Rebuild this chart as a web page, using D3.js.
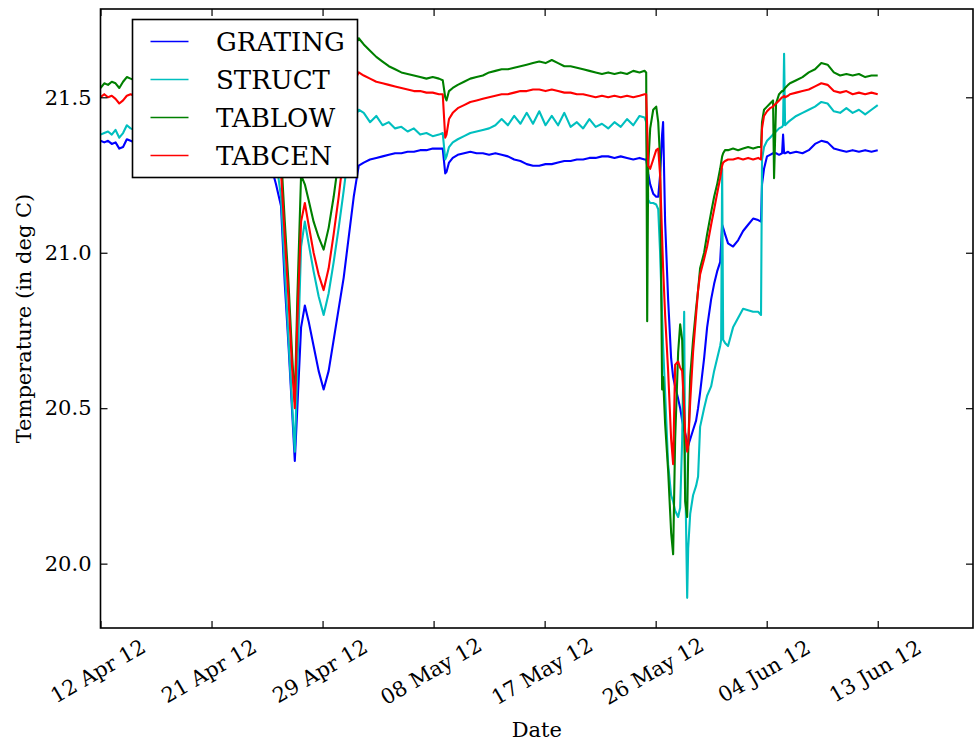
<!DOCTYPE html>
<html>
<head>
<meta charset="utf-8">
<script src="https://cdn.jsdelivr.net/npm/d3@7"></script>
<style>
  body { margin: 0; background: #fff; }
  text { font-family: "DejaVu Serif", serif; fill: #000; }
</style>
</head>
<body>
<svg id="chart" width="974" height="744"></svg>
<script>
// time is kept as days since the first sample (12 Apr 2012, ~05:00)
const startTime = new Date(2012, 3, 12, 5, 0);
const DAY = 864e5;

const days = [
  0, 0.3, 0.6, 0.9, 1.2, 1.5, 1.8, 2.1, 2.4, 3, 4, 5, 6, 7, 8, 9, 10, 11, 12, 13, 13.6, 14.0,
  14.4, 14.7, 15.0, 15.3, 15.5, 15.7, 16.0, 16.3, 16.6, 17.0, 17.4, 17.8, 18.2, 18.6, 19.0, 19.4, 19.8, 20.2, 20.6,
  21, 21.5, 22, 22.5, 23, 23.5, 24, 24.5, 25, 25.5, 26, 26.5, 27,
  27.3, 27.5, 27.6, 27.8, 28.1, 28.5,
  29, 29.5, 30, 30.5, 31, 31.5, 32, 32.5, 33, 33.5, 34, 34.5, 35, 35.5, 36, 36.5, 37, 37.5, 38, 38.5,
  39, 39.5, 40, 40.5, 41, 41.5, 42, 42.5, 43, 43.4,
  43.53, 43.61, 43.69, 43.85, 44.09, 44.33, 44.49, 44.64, 44.80, 44.88,
  45.04, 45.28, 45.52, 45.68, 45.84, 46.08, 46.24, 46.40, 46.56, 46.64,
  46.80, 46.88, 47.04, 47.27, 47.51, 47.67, 47.83, 48.15, 48.39, 48.71,
  48.95, 49.19, 49.43, 49.51, 49.59, 49.67, 49.82, 50.06, 50.46, 50.86,
  51.26, 51.66, 52.06, 52.46, 52.69, 52.77, 52.93, 53.17, 53.41, 53.65,
  53.73, 53.89, 54.13, 54.37, 54.45, 54.53, 54.61, 54.85,
  55, 55.5, 56, 56.5, 57, 57.5, 58, 58.5, 59, 59.5, 60, 60.5, 61, 61.5, 62
];

const grating = [
  21.36, 21.355, 21.36, 21.35, 21.355, 21.335, 21.34, 21.365, 21.36, 21.35, 21.345, 21.35, 21.34, 21.35, 21.345, 21.34, 21.345, 21.34, 21.335, 21.32, 21.28, 21.22,
  21.15, 20.90, 20.70, 20.48, 20.33, 20.50, 20.76, 20.83, 20.78, 20.70, 20.62, 20.56, 20.62, 20.72, 20.82, 20.92, 21.05, 21.18, 21.28,
  21.29, 21.30, 21.305, 21.31, 21.315, 21.32, 21.32, 21.325, 21.325, 21.33, 21.33, 21.335, 21.335,
  21.335, 21.255, 21.26, 21.29, 21.305, 21.315,
  21.32, 21.325, 21.32, 21.32, 21.315, 21.32, 21.315, 21.31, 21.30, 21.295, 21.285, 21.28, 21.28, 21.285, 21.285, 21.29, 21.295, 21.295, 21.30, 21.30,
  21.305, 21.305, 21.31, 21.31, 21.305, 21.31, 21.305, 21.30, 21.305, 21.30,
  21.30, 21.28, 21.255, 21.22, 21.19, 21.18, 21.18, 21.25, 21.38, 21.42,
  21.10, 20.85, 20.66, 20.60, 20.57, 20.53, 20.50, 20.46, 20.43, 20.42,
  20.39, 20.38, 20.40, 20.43, 20.46, 20.50, 20.55, 20.66, 20.76, 20.85,
  20.90, 20.94, 20.97, 21.03, 21.09, 21.08, 21.06, 21.03, 21.02, 21.04,
  21.07, 21.09, 21.11, 21.105, 21.10, 21.22, 21.27, 21.31, 21.315, 21.32,
  21.32, 21.32, 21.315, 21.32, 21.38, 21.32, 21.32, 21.325,
  21.32, 21.325, 21.32, 21.33, 21.35, 21.36, 21.355, 21.335, 21.33, 21.325, 21.33, 21.325, 21.33, 21.325, 21.33
];

const struct = [
  21.38, 21.385, 21.39, 21.38, 21.395, 21.37, 21.385, 21.41, 21.40, 21.39, 21.395, 21.40, 21.39, 21.40, 21.395, 21.39, 21.40, 21.39, 21.385, 21.37, 21.35, 21.30,
  21.18, 20.95, 20.72, 20.50, 20.36, 20.62, 21.02, 21.10, 21.03, 20.94, 20.86, 20.80, 20.87, 20.97, 21.08, 21.20, 21.33, 21.43, 21.46,
  21.45, 21.42, 21.44, 21.41, 21.42, 21.40, 21.405, 21.39, 21.40, 21.38, 21.385, 21.375, 21.38,
  21.385, 21.30, 21.31, 21.34, 21.355, 21.365,
  21.375, 21.385, 21.39, 21.395, 21.40, 21.41, 21.43, 21.41, 21.44, 21.415, 21.45, 21.415, 21.455, 21.41, 21.44, 21.41, 21.45, 21.405, 21.42, 21.40,
  21.43, 21.405, 21.415, 21.40, 21.42, 21.405, 21.43, 21.41, 21.44, 21.435,
  21.42, 21.30, 21.17, 21.16, 21.16, 21.155, 21.14, 21.00, 20.80, 20.70,
  20.55, 20.32, 20.22, 20.20, 20.17, 20.15, 20.18, 20.40, 20.81, 20.30,
  19.89, 20.05, 20.16, 20.22, 20.25, 20.28, 20.44, 20.50, 20.54, 20.57,
  20.62, 20.66, 20.70, 20.72, 21.27, 20.72, 20.71, 20.70, 20.76, 20.79,
  20.82, 20.815, 20.81, 20.81, 20.80, 21.30, 21.34, 21.36, 21.37, 21.38,
  21.385, 21.39, 21.40, 21.405, 21.41, 21.64, 21.41, 21.42,
  21.425, 21.44, 21.45, 21.46, 21.47, 21.485, 21.48, 21.455, 21.45, 21.465, 21.45, 21.46, 21.445, 21.46, 21.475
];

const tablow = [
  21.53, 21.545, 21.54, 21.55, 21.545, 21.53, 21.55, 21.565, 21.56, 21.55, 21.555, 21.55, 21.545, 21.55, 21.555, 21.55, 21.545, 21.55, 21.545, 21.53, 21.52, 21.48,
  21.32, 21.10, 20.90, 20.66, 20.52, 20.85, 21.25, 21.22, 21.17, 21.10, 21.05, 21.01, 21.08, 21.18, 21.30, 21.45, 21.58, 21.66, 21.69,
  21.67, 21.65, 21.63, 21.615, 21.60, 21.59, 21.58, 21.575, 21.57, 21.565, 21.56, 21.565, 21.56,
  21.555, 21.50, 21.49, 21.52, 21.53, 21.54,
  21.55, 21.56, 21.565, 21.57, 21.58, 21.585, 21.59, 21.59, 21.595, 21.60, 21.605, 21.61, 21.615, 21.61, 21.62, 21.61, 21.60, 21.60, 21.595, 21.59,
  21.585, 21.58, 21.575, 21.58, 21.575, 21.58, 21.575, 21.585, 21.58, 21.585,
  21.58, 20.78, 21.28, 21.40, 21.46, 21.47, 21.42, 21.30, 20.56, 20.60,
  20.45, 20.30, 20.10, 20.03, 20.40, 20.68, 20.77, 20.72, 20.45, 20.20,
  20.15, 20.35, 20.60, 20.72, 20.82, 20.88, 20.95, 21.00, 21.06, 21.13,
  21.18, 21.22, 21.27, 21.29, 21.31, 21.32, 21.33, 21.33, 21.335, 21.33,
  21.335, 21.34, 21.335, 21.34, 21.34, 21.42, 21.46, 21.47, 21.48, 21.49,
  21.24, 21.48, 21.51, 21.52, 21.52, 21.525, 21.53, 21.54,
  21.545, 21.555, 21.565, 21.58, 21.59, 21.61, 21.605, 21.58, 21.57, 21.575, 21.57, 21.575, 21.565, 21.57, 21.57
];

const tabcen = [
  21.50, 21.51, 21.50, 21.505, 21.495, 21.48, 21.49, 21.505, 21.51, 21.50, 21.505, 21.50, 21.495, 21.50, 21.505, 21.50, 21.495, 21.50, 21.495, 21.48, 21.46, 21.40,
  21.26, 21.05, 20.85, 20.62, 20.50, 20.78, 21.10, 21.16, 21.09, 21.00, 20.93, 20.88, 20.95, 21.06, 21.18, 21.32, 21.46, 21.55, 21.58,
  21.57, 21.56, 21.55, 21.545, 21.54, 21.535, 21.53, 21.525, 21.52, 21.52, 21.515, 21.515, 21.51,
  21.51, 21.37, 21.38, 21.43, 21.45, 21.465,
  21.475, 21.485, 21.49, 21.495, 21.50, 21.505, 21.51, 21.51, 21.515, 21.52, 21.52, 21.525, 21.525, 21.52, 21.525, 21.52, 21.515, 21.515, 21.51, 21.51,
  21.505, 21.50, 21.505, 21.50, 21.505, 21.50, 21.505, 21.50, 21.505, 21.51,
  21.51, 21.40, 21.28, 21.27, 21.30, 21.33, 21.335, 21.25, 21.05, 20.95,
  20.80, 20.62, 20.40, 20.32, 20.64, 20.65, 20.63, 20.62, 20.50, 20.42,
  20.36, 20.38, 20.52, 20.68, 20.80, 20.88, 20.93, 20.98, 21.02, 21.09,
  21.14, 21.19, 21.24, 21.26, 21.28, 21.29, 21.295, 21.30, 21.30, 21.305,
  21.30, 21.305, 21.30, 21.305, 21.30, 21.40, 21.44, 21.455, 21.465, 21.47,
  21.475, 21.48, 21.49, 21.50, 21.50, 21.505, 21.50, 21.505,
  21.51, 21.515, 21.52, 21.525, 21.535, 21.545, 21.54, 21.52, 21.515, 21.52, 21.51, 21.515, 21.51, 21.515, 21.51
];

const seriesNames = ["GRATING", "STRUCT", "TABLOW", "TABCEN"];
const seriesColors = ["#0000ff", "#00bfbf", "#008000", "#ff0000"];

const tickDays = [0, 8.857, 17.714, 26.571, 35.429, 44.286, 53.143, 62.0];
const tickLabels = ["12 Apr 12", "21 Apr 12", "29 Apr 12", "08 May 12", "17 May 12", "26 May 12", "04 Jun 12", "13 Jun 12"];
const yTicks = [20.0, 20.5, 21.0, 21.5];
const lastDay = 69.6;

const toDate = d => new Date(+startTime + d * DAY);

const plotLeft = 100.5, plotRight = 973, plotTop = 9, plotBottom = 628;
const svg = d3.select("#chart");

const x = d3.scaleTime()
  .domain([startTime, toDate(lastDay)])
  .range([plotLeft, plotRight]);
const y = d3.scaleLinear()
  .domain([19.793, 21.784])
  .range([plotBottom, plotTop]);

svg.append("clipPath").attr("id", "plot-clip")
  .append("rect")
  .attr("x", plotLeft).attr("y", plotTop)
  .attr("width", plotRight - plotLeft).attr("height", plotBottom - plotTop);

const allSeries = [grating, struct, tablow, tabcen];
if (allSeries.some(s => s.length !== days.length)) console.warn("series length mismatch");

const line = d3.line()
  .x(d => x(toDate(d[0])))
  .y(d => y(d[1]));

const plot = svg.append("g").attr("clip-path", "url(#plot-clip)");
allSeries.forEach((vals, i) => {
  plot.append("path")
    .datum(days.map((d, j) => [d, vals[j]]))
    .attr("fill", "none")
    .attr("stroke", seriesColors[i])
    .attr("stroke-width", 2.1)
    .attr("stroke-linejoin", "round")
    .attr("d", line);
});

// axes: matplotlib classic style, ticks pointing inward on all four sides
const tickDates = tickDays.map(toDate);

const xAxis = svg.append("g")
  .attr("transform", `translate(0,${plotBottom})`)
  .call(d3.axisBottom(x).tickValues(tickDates).tickSizeInner(-7).tickSizeOuter(0)
    .tickFormat((d, i) => tickLabels[i]));
xAxis.selectAll("text")
  .attr("y", 0)
  .attr("dy", "0.35em")
  .attr("text-anchor", "middle")
  .attr("transform", "translate(-3,43) rotate(-30)")
  .style("font-size", "21px");

svg.append("g")
  .attr("transform", `translate(0,${plotTop})`)
  .call(d3.axisTop(x).tickValues(tickDates).tickSizeInner(-7).tickSizeOuter(0).tickFormat(""));

svg.append("g")
  .attr("transform", `translate(${plotLeft},0)`)
  .call(d3.axisLeft(y).tickValues(yTicks).tickSizeInner(-7).tickSizeOuter(0).tickPadding(9)
    .tickFormat(d3.format(".1f")))
  .selectAll("text")
  .style("font-size", "21px");

svg.append("g")
  .attr("transform", `translate(${plotRight},0)`)
  .call(d3.axisRight(y).tickValues(yTicks).tickSizeInner(-7).tickSizeOuter(0).tickFormat(""));

svg.selectAll(".domain").remove();
svg.selectAll(".tick line").attr("stroke", "#000").attr("stroke-width", 1.2);
svg.selectAll(".tick text").style("font-family", "'DejaVu Serif', serif").attr("fill", "#000");

svg.append("rect")
  .attr("x", plotLeft).attr("y", plotTop)
  .attr("width", plotRight - plotLeft).attr("height", plotBottom - plotTop)
  .attr("fill", "none").attr("stroke", "#000").attr("stroke-width", 1.6);

svg.append("text")
  .attr("x", (plotLeft + plotRight) / 2).attr("y", 737)
  .attr("text-anchor", "middle")
  .style("font-size", "21px")
  .text("Date");

svg.append("text")
  .attr("transform", `translate(31,${(plotTop + plotBottom) / 2}) rotate(-90)`)
  .attr("text-anchor", "middle")
  .style("font-size", "21px")
  .text("Temperature (in deg C)");

// legend
const legend = svg.append("g").attr("transform", "translate(132.5,19.5)");
legend.append("rect")
  .attr("width", 225).attr("height", 158)
  .attr("fill", "#fff").attr("stroke", "#000").attr("stroke-width", 1.6);
seriesNames.forEach((name, i) => {
  const rowY = 22 + i * 38;
  legend.append("line")
    .attr("x1", 18).attr("x2", 56)
    .attr("y1", rowY).attr("y2", rowY)
    .attr("stroke", seriesColors[i]).attr("stroke-width", 1.7);
  legend.append("text")
    .attr("x", 83.5).attr("y", rowY + 9.5)
    .style("font-size", "26px")
    .text(name);
});
</script>
</body>
</html>
